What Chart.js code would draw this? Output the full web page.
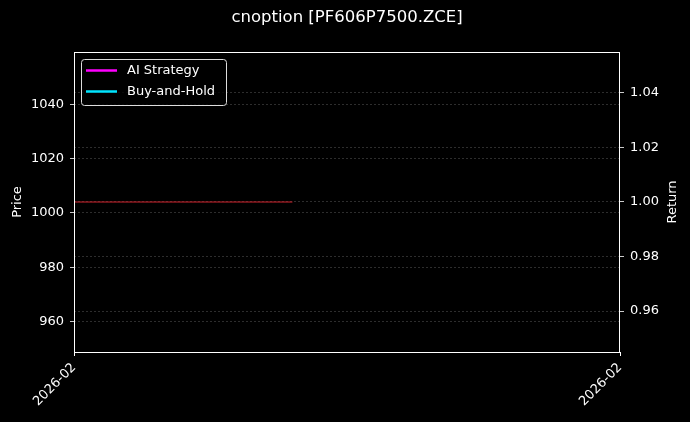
<!DOCTYPE html>
<html>
<head>
<meta charset="utf-8">
<script src="https://cdn.jsdelivr.net/npm/chart.js@4.4.1/dist/chart.umd.min.js"></script>
<style>
  html, body { margin: 0; padding: 0; background: #000; }
  #wrap { width: 690px; height: 422px; }
</style>
</head>
<body>
<div id="wrap"><canvas id="chart" width="690" height="422"></canvas></div>
<script>
// data
const xTickPos = [0, 1];
const xTickLabels = ['2026-02', '2026-02'];
const priceX = [0, 0.4];
const priceValues = [1004, 1004];
const aiReturn = [];
const bhReturn = [];
const priceTicks = [960, 980, 1000, 1020, 1040];
const returnTicks = [0.96, 0.98, 1.00, 1.02, 1.04];
const priceRange = [948.8, 1059.2];
const returnRange = [0.945, 1.055];

const FONT = 'DejaVu Sans';
const FS = 13;

const bgPlugin = {
  id: 'bg',
  beforeDraw(chart) {
    const ctx = chart.ctx;
    ctx.save();
    ctx.fillStyle = '#000';
    ctx.fillRect(0, 0, chart.width, chart.height);
    ctx.restore();
  },
  afterDraw(chart) {
    const ctx = chart.ctx;
    const a = chart.chartArea;
    ctx.save();
    // frame
    ctx.strokeStyle = '#fff';
    ctx.lineWidth = 1;
    ctx.strokeRect(Math.round(a.left) + 0.5, Math.round(a.top) + 0.5,
      Math.round(a.right - a.left) - 1, Math.round(a.bottom - a.top));
    // title
    ctx.fillStyle = '#fff';
    ctx.font = '16.5px ' + FONT;
    ctx.textAlign = 'center';
    ctx.textBaseline = 'middle';
    ctx.fillText('cnoption [PF606P7500.ZCE]', 347, 18);
    // right axis title, reads bottom to top
    ctx.save();
    ctx.translate(673, (a.top + a.bottom) / 2);
    ctx.rotate(-Math.PI / 2);
    ctx.font = FS + 'px ' + FONT;
    ctx.fillText('Return', 0, 0);
    ctx.restore();
    // legend inside plot
    const items = chart.data.datasets.filter(d => d.showInLegend);
    const bx = a.left + 7, by = a.top + 7, bw = 145, bh = 46;
    ctx.beginPath();
    ctx.roundRect(bx + 0.5, by + 0.5, bw, bh, 3);
    ctx.fillStyle = 'rgba(0,0,0,0.8)';
    ctx.fill();
    ctx.strokeStyle = '#ddd';
    ctx.lineWidth = 1;
    ctx.stroke();
    ctx.font = FS + 'px ' + FONT;
    ctx.textAlign = 'left';
    items.forEach((d, i) => {
      const y = by + 11.5 + i * 21;
      ctx.strokeStyle = d.borderColor;
      ctx.lineWidth = 2.5;
      ctx.beginPath();
      ctx.moveTo(bx + 5, y);
      ctx.lineTo(bx + 36, y);
      ctx.stroke();
      ctx.fillStyle = '#fff';
      ctx.fillText(d.label, bx + 46, y);
    });
    ctx.restore();
  }
};

new Chart(document.getElementById('chart'), {
  type: 'line',
  data: {
    datasets: [
      {
        label: 'Price',
        data: priceX.map((x, i) => ({ x: x, y: priceValues[i] })),
        borderColor: '#d2222d',
        borderWidth: 1,
        pointRadius: 0,
        yAxisID: 'y',
        showInLegend: false
      },
      {
        label: 'AI Strategy',
        data: aiReturn,
        borderColor: '#ff00ff',
        borderWidth: 2,
        pointRadius: 0,
        yAxisID: 'y1',
        showInLegend: true
      },
      {
        label: 'Buy-and-Hold',
        data: bhReturn,
        borderColor: '#00e5ff',
        borderWidth: 2,
        pointRadius: 0,
        yAxisID: 'y1',
        showInLegend: true
      }
    ]
  },
  options: {
    responsive: false,
    animation: false,
    layout: { padding: { top: 52, left: 0, right: 0, bottom: 0 } },
    plugins: {
      legend: { display: false },
      title: { display: false },
      tooltip: { enabled: false }
    },
    scales: {
      x: {
        type: 'linear',
        min: 0,
        max: 1,
        afterBuildTicks: axis => { axis.ticks = xTickPos.map(v => ({ value: v })); },
        afterFit: axis => { axis.height = 70; },
        ticks: {
          color: '#fff',
          font: { family: FONT, size: FS },
          minRotation: 45,
          maxRotation: 45,
          padding: 4,
          callback: (v, i) => xTickLabels[i]
        },
        grid: { drawOnChartArea: false, drawTicks: true, tickLength: 4, tickColor: '#fff' },
        border: { display: false }
      },
      y: {
        position: 'left',
        min: priceRange[0],
        max: priceRange[1],
        afterBuildTicks: axis => { axis.ticks = priceTicks.map(v => ({ value: v })); },
        afterFit: axis => { axis.width = 74; },
        ticks: { color: '#fff', font: { family: FONT, size: FS }, padding: 6, callback: v => String(v) },
        title: { display: true, text: 'Price', color: '#fff', font: { family: FONT, size: FS }, padding: { top: 10, bottom: 0 } },
        grid: { color: 'rgba(150,150,150,0.38)', lineWidth: 0.8, tickLength: 4, tickColor: '#fff' },
        border: { display: false, dash: [2, 2] }
      },
      y1: {
        position: 'right',
        min: returnRange[0],
        max: returnRange[1],
        afterBuildTicks: axis => { axis.ticks = returnTicks.map(v => ({ value: v })); },
        afterFit: axis => { axis.width = 70; },
        ticks: { color: '#fff', font: { family: FONT, size: FS }, padding: 6, callback: v => v.toFixed(2) },
        grid: { color: 'rgba(150,150,150,0.38)', lineWidth: 0.8, tickLength: 4, tickColor: '#fff' },
        border: { display: false, dash: [2, 2] }
      }
    }
  },
  plugins: [bgPlugin]
});
</script>
</body>
</html>
